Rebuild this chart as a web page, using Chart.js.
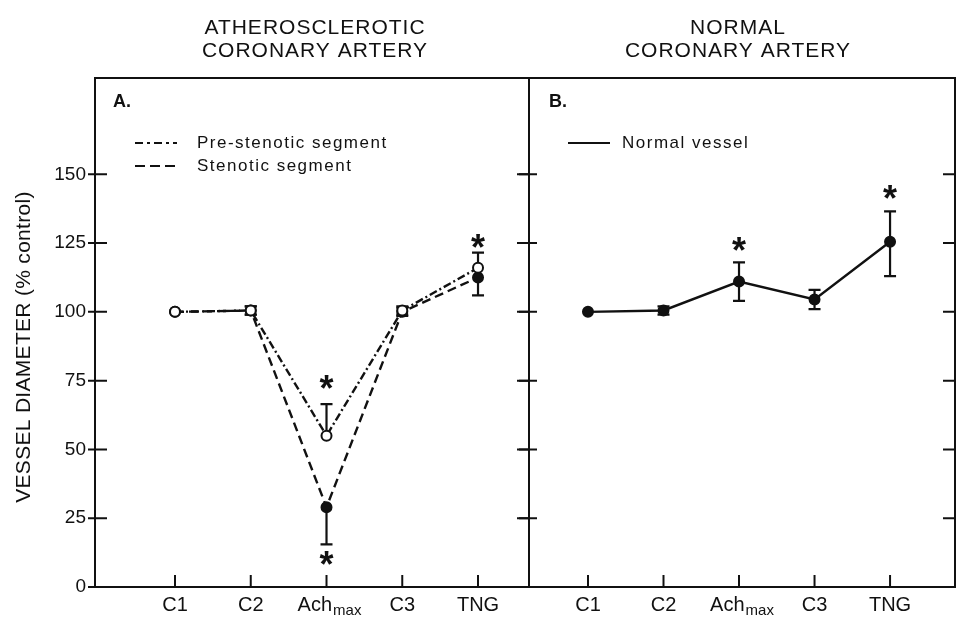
<!DOCTYPE html>
<html>
<head>
<meta charset="utf-8">
<script src="https://cdn.jsdelivr.net/npm/chart.js@4.4.0/dist/chart.umd.min.js"></script>
<style>
  html, body { margin: 0; padding: 0; background: #fff; }
  #wrap { position: relative; width: 957px; height: 619px; }
  #chartA { position: absolute; left: 0; top: 0; }
  #chartB { position: absolute; left: 509px; top: 0; }
</style>
</head>
<body>
<div id="wrap">
  <canvas id="chartA" width="531" height="619"></canvas>
  <canvas id="chartB" width="448" height="619"></canvas>
</div>
<script>
// ---- data ----
const categories = ["C1", "C2", "Ach", "C3", "TNG"];
const categorySub = ["", "", "max", "", ""];
const xPositions = [1, 2, 3, 4, 5];
const yTicks = [0, 25, 50, 75, 100, 125, 150];

// panel A: atherosclerotic coronary artery
const preStenotic = [100, 100.5, 55, 100.5, 116];
const preErrUp = [0, 1.5, 11.5, 1.5, 5.5];
const preErrDown = [0, 1.5, 0, 1.5, 0];
const stenotic = [100, 100.5, 29, 100, 112.5];
const stenErrUp = [0, 1.5, 0, 1.5, 0];
const stenErrDown = [0, 1.5, 13.5, 1.5, 6.5];
const starsA = [{ x: 3, y: 75 }, { x: 3, y: 11 }, { x: 5, y: 126 }];

// panel B: normal coronary artery
const normalVessel = [100, 100.5, 111, 104.5, 125.5];
const normErrUp = [0, 1.5, 7, 3.5, 11];
const normErrDown = [0, 1.5, 7, 3.5, 12.5];
const starsB = [{ x: 3, y: 125 }, { x: 5, y: 144 }];

const INK = "#111";
const FONT = "'Liberation Sans', Arial, Helvetica, sans-serif";

function points(values) {
  return values.map((v, i) => ({ x: xPositions[i], y: v }));
}

function decorPlugin(opt) {
  return {
    id: "decor",
    beforeDatasetsDraw(chart) {
      // error bars under the markers
      const ctx = chart.ctx, xs = chart.scales.x, ys = chart.scales.y;
      ctx.save();
      ctx.strokeStyle = INK;
      ctx.lineWidth = 2.2;
      ctx.setLineDash([]);
      chart.data.datasets.forEach(ds => {
        ds.data.forEach((p, i) => {
          const px = xs.getPixelForValue(p.x);
          const y0 = ys.getPixelForValue(p.y);
          [[ds.errUp[i], 1], [ds.errDown[i], -1]].forEach(([e, s]) => {
            if (!e) return;
            const y1 = ys.getPixelForValue(p.y + s * e);
            ctx.beginPath();
            ctx.moveTo(px, y0); ctx.lineTo(px, y1);
            ctx.moveTo(px - 6, y1); ctx.lineTo(px + 6, y1);
            ctx.stroke();
          });
        });
      });
      ctx.restore();
    },
    afterDraw(chart) {
      const ctx = chart.ctx, xs = chart.scales.x, ys = chart.scales.y;
      const a = chart.chartArea;
      ctx.save();
      ctx.strokeStyle = INK;
      ctx.fillStyle = INK;
      ctx.setLineDash([]);

      // frame
      ctx.lineWidth = 2;
      ctx.strokeRect(a.left, a.top, a.right - a.left, a.bottom - a.top);

      // y ticks on both sides
      ys.ticks.forEach(t => {
        const py = ys.getPixelForValue(t.value);
        ctx.beginPath();
        ctx.moveTo(a.left - opt.leftOut, py); ctx.lineTo(a.left + opt.leftIn, py);
        ctx.moveTo(a.right - 12, py); ctx.lineTo(a.right, py);
        ctx.stroke();
      });

      // x ticks and labels
      ctx.textAlign = "left";
      ctx.textBaseline = "middle";
      xPositions.forEach((xv, i) => {
        const px = xs.getPixelForValue(xv);
        ctx.beginPath();
        ctx.moveTo(px, a.bottom); ctx.lineTo(px, a.bottom - 12);
        ctx.stroke();
        ctx.font = "20px " + FONT;
        const w1 = ctx.measureText(categories[i]).width;
        let w2 = 0;
        if (categorySub[i]) {
          ctx.font = "15px " + FONT;
          w2 = ctx.measureText(categorySub[i]).width + 1;
        }
        const x0 = px - (w1 + w2) / 2 + (w2 ? 3 : 0);
        ctx.font = "20px " + FONT;
        ctx.fillText(categories[i], x0, 605);
        if (categorySub[i]) {
          ctx.font = "15px " + FONT;
          ctx.fillText(categorySub[i], x0 + w1 + 1, 611);
        }
      });

      // headings
      ctx.textAlign = "center";
      ctx.font = "21px " + FONT;
      ctx.letterSpacing = "1px";
      const cx = (a.left + a.right) / 2 + opt.titleDx;
      ctx.fillText(opt.title[0], cx, 28);
      ctx.fillText(opt.title[1], cx, 51);
      ctx.letterSpacing = "0px";

      // panel letter
      ctx.textAlign = "left";
      ctx.font = "bold 18px " + FONT;
      ctx.fillText(opt.letter, a.left + opt.letterDx, 102);

      // legend
      ctx.font = "17px " + FONT;
      ctx.letterSpacing = "1.5px";
      opt.legend.forEach(l => {
        ctx.lineWidth = 2.2;
        ctx.setLineDash(l.dash);
        ctx.beginPath();
        ctx.moveTo(a.left + l.x0, l.y); ctx.lineTo(a.left + l.x1, l.y);
        ctx.stroke();
        ctx.setLineDash([]);
        ctx.fillText(l.text, a.left + l.tx, l.y);
      });
      ctx.letterSpacing = "0px";

      // significance asterisks
      ctx.textAlign = "center";
      ctx.textBaseline = "alphabetic";
      ctx.font = "bold 36px " + FONT;
      opt.stars.forEach(s => {
        ctx.fillText("*", xs.getPixelForValue(s.x), ys.getPixelForValue(s.y) + 20);
      });

      // y axis title
      if (opt.yTitle) {
        ctx.save();
        ctx.translate(24, 347);
        ctx.rotate(-Math.PI / 2);
        ctx.textAlign = "center";
        ctx.textBaseline = "middle";
        ctx.font = "21px " + FONT;
        ctx.letterSpacing = "0.3px";
        ctx.fillText(opt.yTitle, 0, 0);
        ctx.restore();
      }
      ctx.restore();
    }
  };
}

function lineSet(label, values, up, down, dash, fill) {
  return {
    label: label,
    data: points(values),
    errUp: up,
    errDown: down,
    borderColor: INK,
    borderWidth: 2.4,
    borderDash: dash,
    pointRadius: 5,
    pointBorderWidth: 2,
    pointBorderColor: INK,
    pointBackgroundColor: fill,
    tension: 0
  };
}

function yScale(showLabels, width) {
  return {
    type: "linear",
    min: 0,
    max: 185,
    display: showLabels,
    afterBuildTicks: s => { s.ticks = yTicks.map(v => ({ value: v })); },
    afterFit: s => { s.width = width; },
    grid: { display: false, drawTicks: false },
    border: { display: false },
    ticks: { padding: 9, color: INK, font: { size: 19, family: FONT } }
  };
}

new Chart(document.getElementById("chartA").getContext("2d"), {
  type: "line",
  data: {
    datasets: [
      lineSet("Pre-stenotic segment", preStenotic, preErrUp, preErrDown, [8, 3, 2, 3], "#fff"),
      lineSet("Stenotic segment", stenotic, stenErrUp, stenErrDown, [9, 5], INK)
    ]
  },
  options: {
    responsive: false,
    animation: false,
    layout: { autoPadding: false, padding: { top: 78, right: 2, bottom: 32, left: 0 } },
    plugins: { legend: { display: false }, tooltip: { enabled: false } },
    scales: {
      x: { type: "linear", min: -0.056, max: 5.673, display: false },
      y: yScale(true, 95)
    }
  },
  plugins: [decorPlugin({
    leftOut: 7, leftIn: 12,
    title: ["ATHEROSCLEROTIC", "CORONARY ARTERY"], titleDx: 3,
    letter: "A.", letterDx: 18,
    stars: starsA,
    yTitle: "VESSEL DIAMETER (% control)",
    legend: [
      { text: "Pre-stenotic segment", dash: [8, 4, 3, 4], x0: 40, x1: 82, tx: 102, y: 143 },
      { text: "Stenotic segment", dash: [10, 5], x0: 40, x1: 82, tx: 102, y: 166 }
    ]
  })]
});

new Chart(document.getElementById("chartB").getContext("2d"), {
  type: "line",
  data: {
    datasets: [
      lineSet("Normal vessel", normalVessel, normErrUp, normErrDown, [], INK)
    ]
  },
  options: {
    responsive: false,
    animation: false,
    layout: { autoPadding: false, padding: { top: 78, right: 2, bottom: 32, left: 20 } },
    plugins: { legend: { display: false }, tooltip: { enabled: false } },
    scales: {
      x: { type: "linear", min: 0.219, max: 5.86, display: false },
      y: yScale(false, 0)
    }
  },
  plugins: [decorPlugin({
    leftOut: 10, leftIn: 8,
    title: ["NORMAL", "CORONARY ARTERY"], titleDx: -4,
    letter: "B.", letterDx: 20,
    stars: starsB,
    yTitle: null,
    legend: [
      { text: "Normal vessel", dash: [], x0: 39, x1: 81, tx: 93, y: 143 }
    ]
  })]
});
</script>
</body>
</html>
